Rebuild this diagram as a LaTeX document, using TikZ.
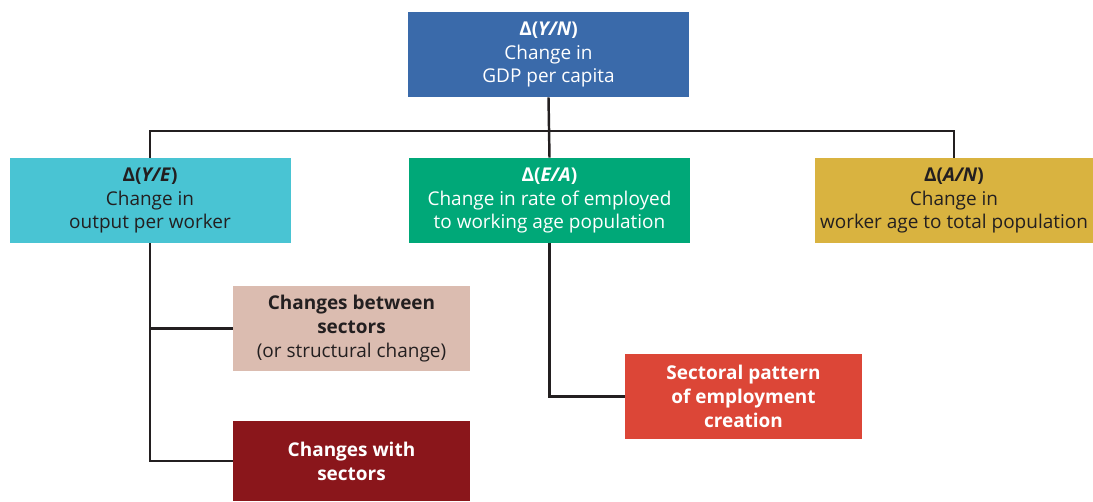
\documentclass[tikz,border=0pt]{standalone}
\usepackage{fontspec}
\setmainfont{Open Sans}
\usetikzlibrary{positioning}

\definecolor{topblue}{HTML}{3A6AAA}
\definecolor{cyanbox}{HTML}{49C4D3}
\definecolor{greenbox}{HTML}{00A878}
\definecolor{goldbox}{HTML}{D9B340}
\definecolor{pinkbox}{HTML}{DBBCB0}
\definecolor{darkred}{HTML}{8A161B}
\definecolor{redbox}{HTML}{DC4637}
\definecolor{inkgray}{HTML}{231F20}

\tikzset{
    box/.style={minimum width=281*0.02cm, minimum height=85*0.02cm, inner sep=0pt,
        align=center, font=\fontsize{10.8}{13.6}\selectfont},
    smallbox/.style={box, minimum width=237*0.02cm},
    link/.style={line width=1.4pt, draw=inkgray}
}

\begin{document}
\begin{tikzpicture}[x=0.02cm, y=-0.02cm]
    \useasboundingbox (0,0) rectangle (1093,501);

    % Top level
    \node[box, fill=topblue, text=white] (gdp) at (548.5,54.5)
        {\textbf{Δ(\textit{Y/N})}\\Change in\\GDP per capita};

    % Second level
    \node[box, fill=cyanbox, text=inkgray] (output) at (150,200.5)
        {\textbf{Δ(\textit{Y/E})}\\Change in\\output per worker};
    \node[box, fill=greenbox, text=white] (employ) at (549.5,200.5)
        {\textbf{Δ(\textit{E/A})}\\Change in rate of employed\\to working age population};
    \node[box, fill=goldbox, text=inkgray, minimum width=278*0.02cm] (agepop) at (954,200.5)
        {\textbf{Δ(\textit{A/N})}\\Change in\\worker age to total population};

    % Third level
    \node[smallbox, fill=pinkbox, text=inkgray] (between) at (351.5,328.5)
        {\textbf{Changes between}\\\textbf{sectors}\\(or structural change)};
    \node[smallbox, fill=darkred, text=white, minimum height=80*0.02cm] (within) at (351.5,461)
        {\textbf{Changes with}\\\textbf{sectors}};
    \node[smallbox, fill=redbox, text=white] (pattern) at (743.5,396.5)
        {\textbf{Sectoral pattern}\\\textbf{of employment}\\\textbf{creation}};

    % Connectors
    \coordinate (bus) at (548.5,131);
    \draw[link] (gdp.south) -- (employ.north);
    \draw[link] (output.north) -- (output.north |- bus) -- (agepop.north |- bus) -- (agepop.north);
    \draw[link] (output.south) |- (between.west);
    \draw[link] (output.south) |- (within.west);
    \draw[link] (employ.south) |- (pattern.west);
\end{tikzpicture}
\end{document}
